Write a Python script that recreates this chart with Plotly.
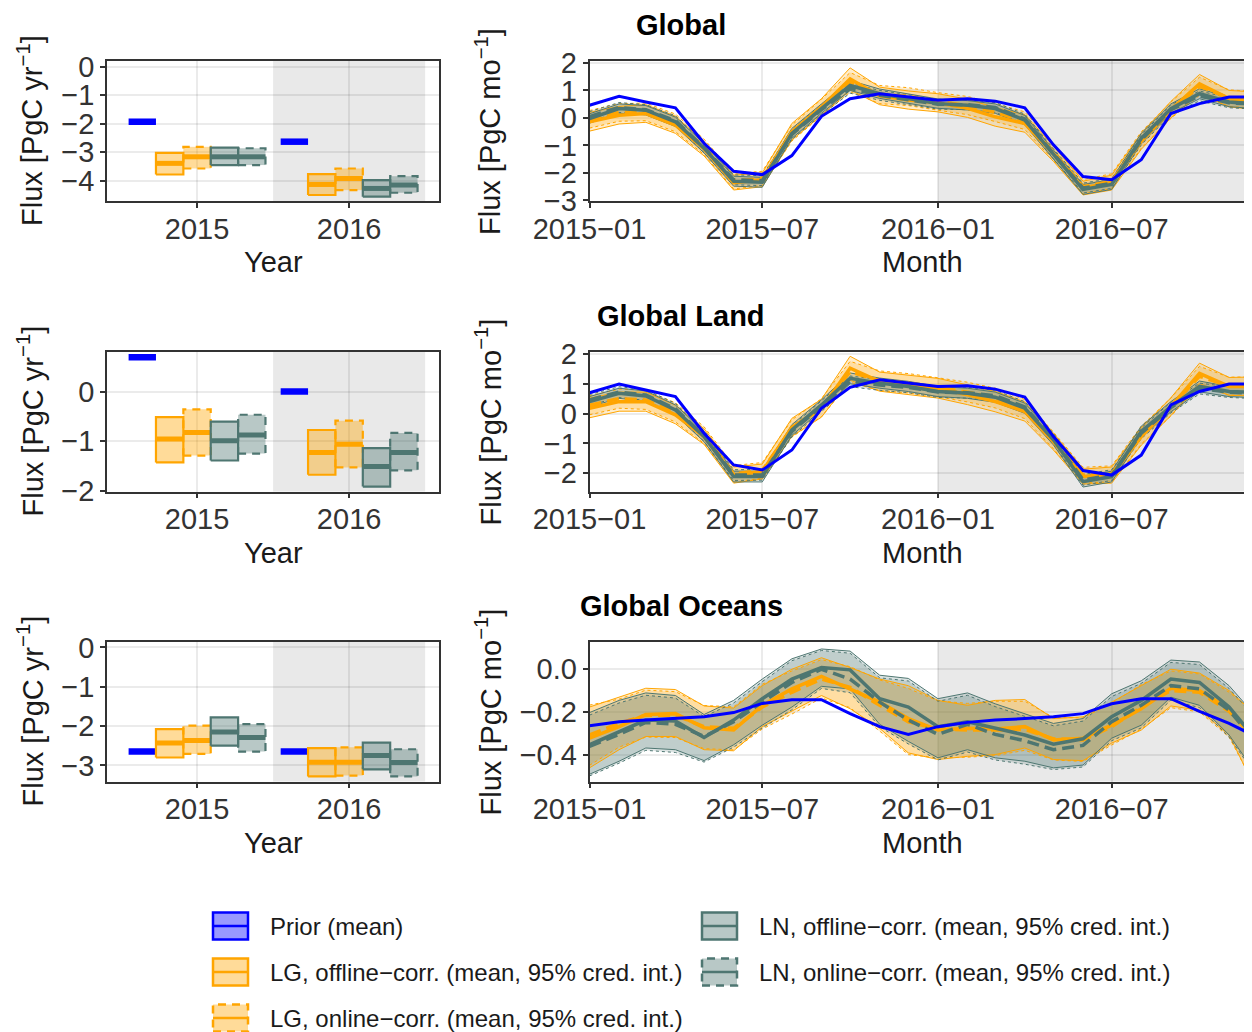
import plotly.graph_objects as go

# ---------------- data ----------------
regions = ["Global", "Global Land", "Global Oceans"]
years = [2015, 2016]
year_tick_labels = ["2015", "2016"]
months = ["2015-01", "2015-02", "2015-03", "2015-04", "2015-05", "2015-06",
          "2015-07", "2015-08", "2015-09", "2015-10", "2015-11", "2015-12",
          "2016-01", "2016-02", "2016-03", "2016-04", "2016-05", "2016-06",
          "2016-07", "2016-08", "2016-09", "2016-10", "2016-11", "2016-12"]
month_ticks = ["2015-01-01", "2015-07-01", "2016-01-01", "2016-07-01"]
month_tick_labels = ["2015\u221201", "2015\u221207", "2016\u221201", "2016\u221207"]
series_names = ["Prior (mean)",
                "LG, offline\u2212corr. (mean, 95% cred. int.)",
                "LG, online\u2212corr. (mean, 95% cred. int.)",
                "LN, offline\u2212corr. (mean, 95% cred. int.)",
                "LN, online\u2212corr. (mean, 95% cred. int.)"]

# ---- annual (PgC/yr) ----
g_prior_a = [-1.93, -2.63]
g_lgoff_a_mean = [-3.39, -4.13]; g_lgoff_a_lo = [-3.78, -4.50]; g_lgoff_a_hi = [-3.02, -3.77]
g_lgon_a_mean = [-3.16, -3.92];  g_lgon_a_lo = [-3.57, -4.33];  g_lgon_a_hi = [-2.81, -3.57]
g_lnoff_a_mean = [-3.16, -4.27]; g_lnoff_a_lo = [-3.45, -4.56]; g_lnoff_a_hi = [-2.84, -3.98]
g_lnon_a_mean = [-3.16, -4.15];  g_lnon_a_lo = [-3.45, -4.42];  g_lnon_a_hi = [-2.86, -3.84]

l_prior_a = [0.71, 0.01]
l_lgoff_a_mean = [-0.955, -1.23]; l_lgoff_a_lo = [-1.43, -1.68]; l_lgoff_a_hi = [-0.51, -0.77]
l_lgon_a_mean = [-0.82, -1.06];   l_lgon_a_lo = [-1.29, -1.53];  l_lgon_a_hi = [-0.35, -0.58]
l_lnoff_a_mean = [-0.99, -1.51];  l_lnoff_a_lo = [-1.39, -1.92]; l_lnoff_a_hi = [-0.60, -1.14]
l_lnon_a_mean = [-0.87, -1.23];   l_lnon_a_lo = [-1.25, -1.59];  l_lnon_a_hi = [-0.46, -0.83]

o_prior_a = [-2.65, -2.65]
o_lgoff_a_mean = [-2.43, -2.92]; o_lgoff_a_lo = [-2.80, -3.28]; o_lgoff_a_hi = [-2.08, -2.56]
o_lgon_a_mean = [-2.37, -2.92];  o_lgon_a_lo = [-2.71, -3.26];  o_lgon_a_hi = [-1.99, -2.54]
o_lnoff_a_mean = [-2.15, -2.75]; o_lnoff_a_lo = [-2.50, -3.10]; o_lnoff_a_hi = [-1.78, -2.42]
o_lnon_a_mean = [-2.29, -2.93];  o_lnon_a_lo = [-2.65, -3.28];  o_lnon_a_hi = [-1.95, -2.59]

# ---- monthly (PgC/mo) ----
g_prior_m = [0.46, 0.79, 0.58, 0.37, -0.92, -1.94, -2.06, -1.37, 0.06, 0.70, 0.88, 0.76, 0.64, 0.70, 0.61, 0.37, -0.98, -2.13, -2.25, -1.52, 0.16, 0.52, 0.76, 0.76]
g_lgoff_mean = [-0.14, 0.10, 0.16, -0.26, -1.12, -2.35, -2.25, -0.50, 0.40, 1.42, 0.80, 0.65, 0.55, 0.35, 0.04, -0.20, -1.30, -2.55, -2.35, -0.85, 0.30, 1.24, 0.70, 0.62]
g_lgoff_lo = [-0.48, -0.22, -0.16, -0.56, -1.38, -2.62, -2.50, -0.80, 0.10, 1.02, 0.48, 0.32, 0.22, 0.02, -0.30, -0.52, -1.58, -2.80, -2.62, -1.14, 0.00, 0.90, 0.40, 0.30]
g_lgoff_hi = [0.20, 0.42, 0.48, 0.06, -0.86, -2.08, -2.00, -0.20, 0.70, 1.82, 1.12, 0.98, 0.88, 0.68, 0.38, 0.12, -1.02, -2.30, -2.08, -0.56, 0.60, 1.58, 1.00, 0.94]
g_lgon_mean = [-0.05, 0.20, 0.22, -0.18, -1.05, -2.30, -2.20, -0.55, 0.38, 1.30, 0.85, 0.78, 0.60, 0.45, 0.20, -0.10, -1.25, -2.50, -2.30, -0.80, 0.28, 1.15, 0.72, 0.65]
g_lgon_lo = [-0.37, -0.12, -0.10, -0.50, -1.33, -2.58, -2.46, -0.84, 0.08, 0.95, 0.52, 0.45, 0.28, 0.12, -0.13, -0.42, -1.53, -2.76, -2.57, -1.10, -0.02, 0.82, 0.42, 0.34]
g_lgon_hi = [0.27, 0.52, 0.54, 0.14, -0.77, -2.02, -1.94, -0.26, 0.68, 1.65, 1.18, 1.10, 0.92, 0.78, 0.53, 0.22, -0.97, -2.24, -2.03, -0.50, 0.58, 1.48, 1.02, 0.96]
g_lnoff_mean = [-0.02, 0.34, 0.28, -0.14, -1.10, -2.30, -2.34, -0.56, 0.34, 1.18, 0.88, 0.70, 0.52, 0.46, 0.34, -0.08, -1.34, -2.60, -2.42, -0.74, 0.34, 0.88, 0.58, 0.50]
g_lnoff_lo = [-0.19, 0.17, 0.11, -0.31, -1.27, -2.48, -2.52, -0.74, 0.17, 1.00, 0.71, 0.53, 0.35, 0.29, 0.17, -0.25, -1.51, -2.78, -2.60, -0.92, 0.17, 0.70, 0.41, 0.33]
g_lnoff_hi = [0.15, 0.51, 0.45, 0.03, -0.93, -2.12, -2.16, -0.38, 0.51, 1.36, 1.05, 0.87, 0.69, 0.63, 0.51, 0.09, -1.17, -2.42, -2.24, -0.56, 0.51, 1.06, 0.75, 0.67]
g_lnon_mean = [0.05, 0.38, 0.30, -0.10, -1.08, -2.25, -2.28, -0.60, 0.30, 1.08, 0.82, 0.66, 0.50, 0.48, 0.38, -0.04, -1.30, -2.55, -2.38, -0.80, 0.30, 0.80, 0.55, 0.50]
g_lnon_lo = [-0.13, 0.20, 0.12, -0.28, -1.26, -2.43, -2.46, -0.78, 0.12, 0.90, 0.64, 0.48, 0.32, 0.30, 0.20, -0.22, -1.48, -2.73, -2.56, -0.98, 0.12, 0.62, 0.37, 0.32]
g_lnon_hi = [0.23, 0.56, 0.48, 0.08, -0.90, -2.07, -2.10, -0.42, 0.48, 1.26, 1.00, 0.84, 0.68, 0.66, 0.56, 0.14, -1.12, -2.37, -2.20, -0.62, 0.48, 0.98, 0.73, 0.68]

l_prior_m = [0.70, 0.99, 0.79, 0.57, -0.66, -1.72, -1.89, -1.22, 0.18, 0.88, 1.13, 1.02, 0.91, 0.93, 0.82, 0.55, -0.77, -1.91, -2.06, -1.39, 0.29, 0.74, 0.99, 0.99]
l_lgoff_mean = [0.18, 0.40, 0.40, -0.04, -0.77, -2.06, -1.94, -0.46, 0.18, 1.52, 1.07, 0.96, 0.85, 0.63, 0.40, 0.07, -0.94, -2.11, -2.06, -0.77, 0.23, 1.35, 0.91, 0.91]
l_lgoff_lo = [-0.14, 0.08, 0.08, -0.34, -1.03, -2.33, -2.19, -0.76, -0.12, 1.12, 0.75, 0.63, 0.52, 0.30, 0.06, -0.25, -1.22, -2.36, -2.33, -1.06, -0.07, 1.01, 0.61, 0.59]
l_lgoff_hi = [0.52, 0.72, 0.72, 0.28, -0.51, -1.79, -1.69, -0.16, 0.48, 1.92, 1.39, 1.29, 1.18, 0.96, 0.74, 0.39, -0.66, -1.86, -1.79, -0.48, 0.53, 1.69, 1.21, 1.23]
l_lgon_mean = [0.28, 0.50, 0.46, 0.04, -0.72, -2.02, -1.90, -0.50, 0.20, 1.40, 1.10, 1.02, 0.88, 0.72, 0.52, 0.15, -0.90, -2.06, -2.02, -0.72, 0.22, 1.25, 0.92, 0.92]
l_lgon_lo = [-0.04, 0.18, 0.14, -0.28, -1.00, -2.30, -2.16, -0.79, -0.10, 1.05, 0.77, 0.69, 0.56, 0.39, 0.19, -0.17, -1.18, -2.32, -2.29, -1.02, -0.08, 0.92, 0.62, 0.61]
l_lgon_hi = [0.60, 0.82, 0.78, 0.36, -0.44, -1.74, -1.64, -0.21, 0.50, 1.75, 1.43, 1.34, 1.20, 1.05, 0.85, 0.47, -0.62, -1.80, -1.75, -0.42, 0.52, 1.58, 1.22, 1.23]
l_lnoff_mean = [0.40, 0.68, 0.59, 0.12, -0.77, -2.11, -2.11, -0.55, 0.29, 1.18, 1.02, 0.91, 0.74, 0.68, 0.55, 0.18, -0.88, -2.28, -2.11, -0.60, 0.23, 0.91, 0.74, 0.70]
l_lnoff_lo = [0.23, 0.51, 0.42, -0.05, -0.94, -2.29, -2.29, -0.73, 0.12, 1.00, 0.85, 0.74, 0.57, 0.51, 0.38, 0.01, -1.05, -2.46, -2.29, -0.78, 0.06, 0.73, 0.57, 0.53]
l_lnoff_hi = [0.57, 0.85, 0.76, 0.29, -0.60, -1.93, -1.93, -0.37, 0.46, 1.36, 1.19, 1.08, 0.91, 0.85, 0.72, 0.35, -0.71, -2.10, -1.93, -0.42, 0.40, 1.09, 0.91, 0.87]
l_lnon_mean = [0.46, 0.72, 0.62, 0.16, -0.75, -2.06, -2.05, -0.60, 0.25, 1.08, 0.96, 0.88, 0.72, 0.70, 0.60, 0.22, -0.84, -2.22, -2.06, -0.66, 0.20, 0.84, 0.72, 0.68]
l_lnon_lo = [0.28, 0.54, 0.44, -0.02, -0.93, -2.24, -2.23, -0.78, 0.07, 0.90, 0.78, 0.70, 0.54, 0.52, 0.42, 0.04, -1.02, -2.40, -2.24, -0.84, 0.02, 0.66, 0.54, 0.50]
l_lnon_hi = [0.64, 0.90, 0.80, 0.34, -0.57, -1.88, -1.87, -0.42, 0.43, 1.26, 1.14, 1.06, 0.90, 0.88, 0.78, 0.40, -0.66, -2.04, -1.88, -0.48, 0.38, 1.02, 0.90, 0.86]

o_prior_m = [-0.265, -0.246, -0.238, -0.231, -0.223, -0.203, -0.160, -0.143, -0.143, -0.208, -0.269, -0.305, -0.269, -0.249, -0.238, -0.231, -0.223, -0.208, -0.162, -0.138, -0.138, -0.197, -0.254, -0.320]
o_lgoff_mean = [-0.323, -0.269, -0.212, -0.208, -0.274, -0.285, -0.169, -0.092, -0.034, -0.092, -0.154, -0.231, -0.285, -0.277, -0.280, -0.269, -0.331, -0.323, -0.262, -0.185, -0.089, -0.100, -0.185, -0.350]
o_lgoff_lo = [-0.462, -0.377, -0.315, -0.315, -0.377, -0.382, -0.269, -0.197, -0.123, -0.185, -0.277, -0.392, -0.423, -0.408, -0.400, -0.369, -0.423, -0.428, -0.346, -0.285, -0.172, -0.192, -0.308, -0.580]
o_lgoff_hi = [-0.177, -0.131, -0.089, -0.095, -0.172, -0.182, -0.077, 0.000, 0.054, 0.008, -0.046, -0.077, -0.146, -0.169, -0.146, -0.142, -0.231, -0.223, -0.154, -0.077, 0.000, -0.018, -0.100, -0.220]
o_lgon_mean = [-0.308, -0.254, -0.215, -0.215, -0.269, -0.277, -0.177, -0.108, -0.046, -0.085, -0.169, -0.246, -0.280, -0.285, -0.285, -0.282, -0.326, -0.331, -0.269, -0.177, -0.100, -0.108, -0.197, -0.340]
o_lgon_lo = [-0.450, -0.365, -0.318, -0.320, -0.372, -0.378, -0.280, -0.210, -0.135, -0.180, -0.290, -0.400, -0.415, -0.412, -0.405, -0.380, -0.425, -0.432, -0.355, -0.280, -0.180, -0.200, -0.318, -0.570]
o_lgon_hi = [-0.168, -0.140, -0.098, -0.105, -0.170, -0.176, -0.070, -0.008, 0.045, 0.012, -0.050, -0.090, -0.148, -0.160, -0.150, -0.150, -0.226, -0.228, -0.160, -0.072, -0.008, -0.022, -0.108, -0.215]
o_lnoff_mean = [-0.354, -0.292, -0.238, -0.243, -0.320, -0.238, -0.138, -0.046, 0.008, -0.003, -0.138, -0.177, -0.269, -0.246, -0.277, -0.308, -0.351, -0.326, -0.223, -0.146, -0.046, -0.062, -0.177, -0.340]
o_lnoff_lo = [-0.492, -0.431, -0.369, -0.377, -0.428, -0.354, -0.262, -0.177, -0.080, -0.092, -0.258, -0.338, -0.415, -0.377, -0.415, -0.431, -0.462, -0.449, -0.323, -0.262, -0.131, -0.169, -0.308, -0.500]
o_lnoff_hi = [-0.203, -0.146, -0.111, -0.123, -0.212, -0.146, -0.046, 0.049, 0.095, 0.085, -0.028, -0.043, -0.138, -0.111, -0.162, -0.208, -0.254, -0.231, -0.115, -0.054, 0.043, 0.034, -0.077, -0.230]
o_lnon_mean = [-0.362, -0.305, -0.249, -0.258, -0.315, -0.246, -0.154, -0.062, 0.000, -0.046, -0.154, -0.238, -0.305, -0.258, -0.305, -0.335, -0.377, -0.357, -0.246, -0.169, -0.077, -0.092, -0.192, -0.350]
o_lnon_lo = [-0.500, -0.440, -0.380, -0.390, -0.435, -0.365, -0.275, -0.190, -0.090, -0.110, -0.270, -0.350, -0.425, -0.388, -0.425, -0.445, -0.470, -0.458, -0.335, -0.275, -0.145, -0.180, -0.318, -0.510]
o_lnon_hi = [-0.215, -0.158, -0.122, -0.135, -0.222, -0.158, -0.058, 0.040, 0.088, 0.075, -0.040, -0.055, -0.150, -0.122, -0.175, -0.220, -0.265, -0.243, -0.128, -0.066, 0.032, 0.022, -0.090, -0.240]

annual = {
    "Global": (g_prior_a, [(g_lgoff_a_mean, g_lgoff_a_lo, g_lgoff_a_hi), (g_lgon_a_mean, g_lgon_a_lo, g_lgon_a_hi),
                           (g_lnoff_a_mean, g_lnoff_a_lo, g_lnoff_a_hi), (g_lnon_a_mean, g_lnon_a_lo, g_lnon_a_hi)]),
    "Global Land": (l_prior_a, [(l_lgoff_a_mean, l_lgoff_a_lo, l_lgoff_a_hi), (l_lgon_a_mean, l_lgon_a_lo, l_lgon_a_hi),
                                (l_lnoff_a_mean, l_lnoff_a_lo, l_lnoff_a_hi), (l_lnon_a_mean, l_lnon_a_lo, l_lnon_a_hi)]),
    "Global Oceans": (o_prior_a, [(o_lgoff_a_mean, o_lgoff_a_lo, o_lgoff_a_hi), (o_lgon_a_mean, o_lgon_a_lo, o_lgon_a_hi),
                                  (o_lnoff_a_mean, o_lnoff_a_lo, o_lnoff_a_hi), (o_lnon_a_mean, o_lnon_a_lo, o_lnon_a_hi)]),
}
monthly = {
    "Global": (g_prior_m, [(g_lgoff_mean, g_lgoff_lo, g_lgoff_hi), (g_lgon_mean, g_lgon_lo, g_lgon_hi),
                           (g_lnoff_mean, g_lnoff_lo, g_lnoff_hi), (g_lnon_mean, g_lnon_lo, g_lnon_hi)]),
    "Global Land": (l_prior_m, [(l_lgoff_mean, l_lgoff_lo, l_lgoff_hi), (l_lgon_mean, l_lgon_lo, l_lgon_hi),
                                (l_lnoff_mean, l_lnoff_lo, l_lnoff_hi), (l_lnon_mean, l_lnon_lo, l_lnon_hi)]),
    "Global Oceans": (o_prior_m, [(o_lgoff_mean, o_lgoff_lo, o_lgoff_hi), (o_lgon_mean, o_lgon_lo, o_lgon_hi),
                                  (o_lnoff_mean, o_lnoff_lo, o_lnoff_hi), (o_lnon_mean, o_lnon_lo, o_lnon_hi)]),
}

# ---------------- styling ----------------
PAGE_OFF = 8            # default body margin of the html page
W, H = 1252 - PAGE_OFF, 1032 - PAGE_OFF
FONT = "Liberation Sans, Arial, Helvetica, sans-serif"
BLUE = "#0000FF"
ORANGE = "#FFA500"
GREEN = "#4E7671"
series_colors = [ORANGE, ORANGE, GREEN, GREEN]
series_online = [False, True, False, True]


def rgba(hexc, a):
    h = hexc.lstrip("#")
    return f"rgba({int(h[0:2],16)},{int(h[2:4],16)},{int(h[4:6],16)},{a})"


def px_x(p):
    return (p - PAGE_OFF) / W


def px_y(p):
    return 1 - (p - PAGE_OFF) / H


BOX_DASH = "8px,6px"
MEAN_DASH = "12px,6px"
OUTLINE_DASH = "3px,3px"

ann_ranges = {"Global": [-4.71, 0.2], "Global Land": [-2.02, 0.825], "Global Oceans": [-3.41, 0.15]}
ann_ticks = {"Global": [-4, -3, -2, -1, 0], "Global Land": [-2, -1, 0], "Global Oceans": [-3, -2, -1, 0]}
mon_ranges = {"Global": [-3.02, 2.07], "Global Land": [-2.61, 2.08], "Global Oceans": [-0.526, 0.13]}
mon_ticks = {"Global": [-3, -2, -1, 0, 1, 2], "Global Land": [-2, -1, 0, 1, 2], "Global Oceans": [-0.4, -0.2, 0.0]}
mon_fmt = {"Global": "d", "Global Land": "d", "Global Oceans": ".1f"}

row_px = [(61, 201), (351.5, 491.5), (641.5, 781.5)]
ann_x_px = (107, 439)
mon_x_px = (589.5, 1252)
dodge = [-0.36, -0.18, 0.0, 0.18, 0.36]
bw = 0.18

dates = [m + "-01" for m in months]

fig = go.Figure()
layout = dict(width=W, height=H, margin=dict(l=0, r=0, t=0, b=0, autoexpand=False),
              paper_bgcolor="white", plot_bgcolor="white", showlegend=False,
              font=dict(family=FONT, color="#333333"))
shapes = []
annotations = []

TXT = 29
TICKFONT = dict(family=FONT, size=TXT, color="#333333")
base_axis = dict(showline=True, linecolor="#333333", linewidth=1.6, ticks="outside", ticklen=5,
                 tickwidth=1.6, tickcolor="#333333", showgrid=True, gridcolor="rgba(0,0,0,0.08)",
                 gridwidth=1.6, zeroline=False, tickfont=TICKFONT, fixedrange=True, automargin=False)

for r, reg in enumerate(regions):
    na, nm = 2 * r + 1, 2 * r + 2
    xa = "x" if na == 1 else f"x{na}"
    ya = "y" if na == 1 else f"y{na}"
    xm, ym = f"x{nm}", f"y{nm}"
    top, bot = row_px[r]
    ydom = [px_y(bot), px_y(top)]

    layout["xaxis" if na == 1 else f"xaxis{na}"] = dict(base_axis, domain=[px_x(ann_x_px[0]), px_x(ann_x_px[1])],
        anchor=ya, range=[2014.408, 2016.591], tickvals=years, ticktext=year_tick_labels, mirror=True,
        ticklabelstandoff=-4)
    layout["yaxis" if na == 1 else f"yaxis{na}"] = dict(base_axis, domain=ydom, anchor=xa,
        range=ann_ranges[reg], tickvals=ann_ticks[reg], mirror=True)
    layout[f"xaxis{nm}"] = dict(base_axis, domain=[px_x(mon_x_px[0]), min(1.0, px_x(mon_x_px[1]))], anchor=ym,
        type="date", range=["2015-01-01", "2016-11-25"], tickvals=month_ticks, ticktext=month_tick_labels,
        mirror=True, ticklabelstandoff=-4)
    layout[f"yaxis{nm}"] = dict(base_axis, domain=ydom, anchor=xm, range=mon_ranges[reg],
        tickvals=mon_ticks[reg], tickformat=mon_fmt[reg], mirror=False)

    # shading of 2016
    shapes.append(dict(type="rect", xref=xa, yref=f"{ya} domain", x0=2015.5, x1=2016.5, y0=0, y1=1,
                       fillcolor="rgba(0,0,0,0.085)", line=dict(width=0), layer="below"))
    shapes.append(dict(type="rect", xref=xm, yref=f"{ym} domain", x0="2016-01-01", x1="2016-11-25", y0=0, y1=1,
                       fillcolor="rgba(0,0,0,0.085)", line=dict(width=0), layer="below"))

    # ---- annual crossbars ----
    prior_a, post_a = annual[reg]
    for i, yr in enumerate(years):
        cx = yr + dodge[0]
        fig.add_trace(go.Scatter(x=[cx - bw / 2, cx + bw / 2], y=[prior_a[i], prior_a[i]], mode="lines",
                                 line=dict(color=BLUE, width=6.5), xaxis=xa, yaxis=ya, hoverinfo="skip"))
        for s, (mn, lo, hi) in enumerate(post_a):
            cx = yr + dodge[s + 1]
            col = series_colors[s]
            fig.add_trace(go.Scatter(
                x=[cx - bw / 2, cx + bw / 2, cx + bw / 2, cx - bw / 2, cx - bw / 2],
                y=[lo[i], lo[i], hi[i], hi[i], lo[i]], mode="lines", fill="toself",
                fillcolor=rgba(col, 0.4),
                line=dict(color=col, width=2.2, dash=BOX_DASH if series_online[s] else "solid"),
                xaxis=xa, yaxis=ya, hoverinfo="skip"))
            fig.add_trace(go.Scatter(x=[cx - bw / 2, cx + bw / 2], y=[mn[i], mn[i]], mode="lines",
                                     line=dict(color=col, width=5), xaxis=xa, yaxis=ya, hoverinfo="skip"))

    # ---- monthly ----
    prior_m, post_m = monthly[reg]
    for s, (mn, lo, hi) in enumerate(post_m):
        col = series_colors[s]
        fig.add_trace(go.Scatter(x=dates + dates[::-1], y=hi + lo[::-1], mode="lines", fill="toself",
                                 fillcolor=rgba(col, 0.2), line=dict(width=0), xaxis=xm, yaxis=ym,
                                 hoverinfo="skip"))
    for s, (mn, lo, hi) in enumerate(post_m):
        col = series_colors[s]
        d = OUTLINE_DASH if series_online[s] else "solid"
        for band in (lo, hi):
            fig.add_trace(go.Scatter(x=dates, y=band, mode="lines", line=dict(color=col, width=1, dash=d),
                                     xaxis=xm, yaxis=ym, hoverinfo="skip"))
    for s, (mn, lo, hi) in enumerate(post_m):
        col = series_colors[s]
        fig.add_trace(go.Scatter(x=dates, y=mn, mode="lines",
                                 line=dict(color=col, width=3.5, dash=MEAN_DASH if series_online[s] else "solid"),
                                 xaxis=xm, yaxis=ym, hoverinfo="skip"))
    fig.add_trace(go.Scatter(x=dates, y=prior_m, mode="lines", line=dict(color=BLUE, width=3),
                             xaxis=xm, yaxis=ym, hoverinfo="skip"))

    # ---- text ----
    yc = (top + bot) / 2
    annotations.append(dict(text=f"<b>{reg}</b>", x=px_x(681), y=px_y(top - 36), xref="paper", yref="paper",
                            xanchor="center", yanchor="middle", showarrow=False,
                            font=dict(family=FONT, size=TXT, color="black")))
    annotations.append(dict(text="Flux [PgC yr<sup>\u22121</sup>]", x=px_x(30), y=px_y(yc), xref="paper",
                            yref="paper", xanchor="center", yanchor="middle", textangle=-90, showarrow=False,
                            font=dict(family=FONT, size=TXT, color="#1a1a1a")))
    annotations.append(dict(text="Flux [PgC mo<sup>\u22121</sup>]", x=px_x(488), y=px_y(yc), xref="paper",
                            yref="paper", xanchor="center", yanchor="middle", textangle=-90, showarrow=False,
                            font=dict(family=FONT, size=TXT, color="#1a1a1a")))
    annotations.append(dict(text="Year", x=px_x(273), y=px_y(bot + 61), xref="paper", yref="paper",
                            xanchor="center", yanchor="middle", showarrow=False,
                            font=dict(family=FONT, size=TXT, color="#1a1a1a")))
    annotations.append(dict(text="Month", x=px_x(922), y=px_y(bot + 61), xref="paper", yref="paper",
                            xanchor="center", yanchor="middle", showarrow=False,
                            font=dict(family=FONT, size=TXT, color="#1a1a1a")))

# ---------------- manual legend ----------------
legend_items = [
    (series_names[0], BLUE, False, 213, 926),
    (series_names[1], ORANGE, False, 213, 972),
    (series_names[2], ORANGE, True, 213, 1018),
    (series_names[3], GREEN, False, 702, 926),
    (series_names[4], GREEN, True, 702, 972),
]
for name, col, online, kx, ky in legend_items:
    shapes.append(dict(type="rect", xref="paper", yref="paper", x0=px_x(kx), x1=px_x(kx + 35),
                       y0=px_y(ky + 13.5), y1=px_y(ky - 13.5), fillcolor=rgba(col, 0.4),
                       line=dict(color=col, width=2.5, dash=BOX_DASH if online else "solid"), layer="above"))
    shapes.append(dict(type="line", xref="paper", yref="paper", x0=px_x(kx), x1=px_x(kx + 35),
                       y0=px_y(ky), y1=px_y(ky), line=dict(color=col, width=2.5), layer="above"))
    annotations.append(dict(text=name, x=px_x(kx + 55), y=px_y(ky), xref="paper", yref="paper",
                            xanchor="left", yanchor="middle", showarrow=False,
                            font=dict(family=FONT, size=24, color="#1a1a1a")))

layout["shapes"] = shapes
layout["annotations"] = annotations
fig.update_layout(**layout)
fig.write_html("out.html")
